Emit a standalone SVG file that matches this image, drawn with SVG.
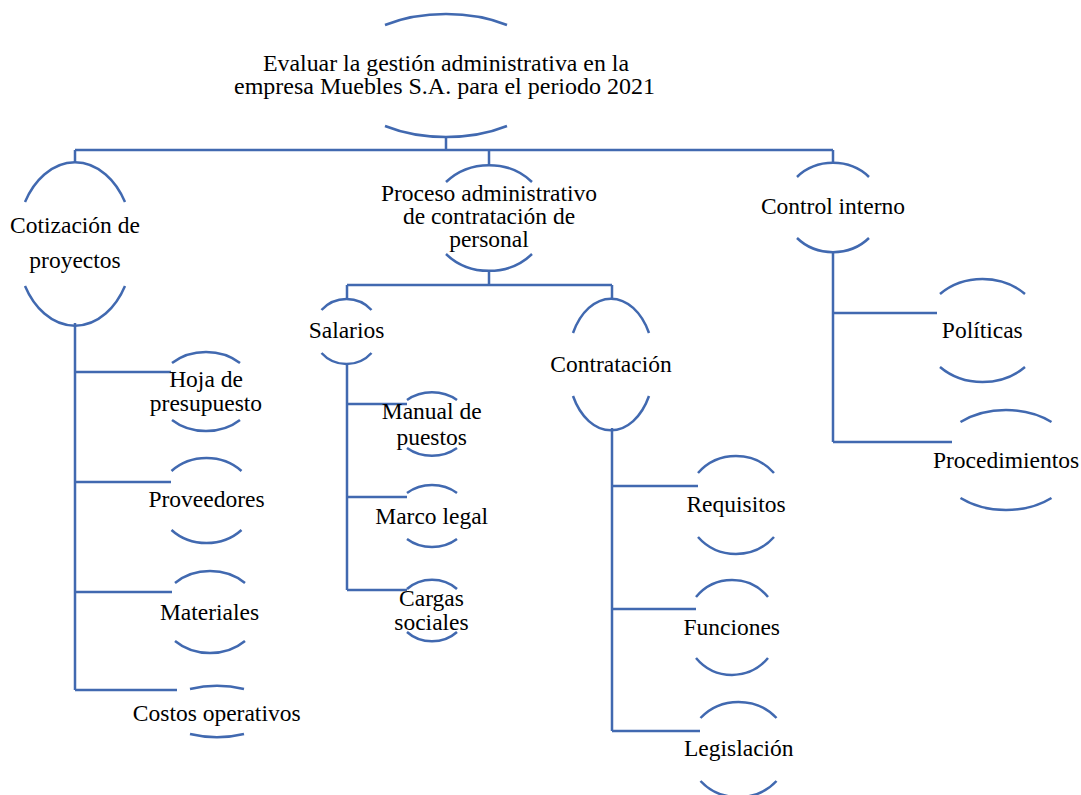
<svg xmlns="http://www.w3.org/2000/svg" width="1081" height="795" viewBox="0 0 1081 795">
<style>
.ln{fill:none;stroke:#4169b0;stroke-width:2.5}
.arc{fill:none;stroke:#4169b0;stroke-width:2.5}
text{font-family:"Liberation Serif","Times New Roman",serif;font-size:23.5px;fill:#000;text-anchor:middle}
</style>
<rect width="1081" height="795" fill="#fff"/>
<g id="connectors">
<path class="ln" d="M446 137V150M75 150H833M75 150V162M489 150V165M833 150V163"/>
<path class="ln" d="M75 323V690M75 372H171M75 482H171M75 592H172M75 690H177"/>
<path class="ln" d="M489 272V285M347 285H612M347 285V299M612 285V299"/>
<path class="ln" d="M347 364V590M347 404H407M347 497H407M347 590H407"/>
<path class="ln" d="M612 428V731M612 486H698M612 609H696M612 731H700"/>
<path class="ln" d="M833 251V442M833 313H937M833 442H952"/>
</g>
<g id="n-root">
<path class="arc" d="M385 25A107 61.5 0 0 1 507 25M385 126A107 61.5 0 0 0 507 126"/>
<text x="446" y="71" textLength="366" lengthAdjust="spacingAndGlyphs">Evaluar la gestión administrativa en la</text>
<text x="444.5" y="94.3" textLength="421" lengthAdjust="spacingAndGlyphs">empresa Muebles S.A. para el periodo 2021</text>
</g>
<g id="n-cotizacion">
<path class="arc" d="M25 202A58 80.5 0 0 1 125 202M25 286A58 80.5 0 0 0 125 286"/>
<text x="75" y="233">Cotización de</text>
<text x="75" y="268">proyectos</text>
</g>
<g id="n-proceso">
<path class="arc" d="M446 182A59 53.5 0 0 1 532 182M446 254A59 53.5 0 0 0 532 254"/>
<text x="489" y="201">Proceso administrativo</text>
<text x="489" y="224">de contratación de</text>
<text x="489" y="247">personal</text>
</g>
<g id="n-control">
<path class="arc" d="M797 177A49 44 0 0 1 869 177M797 238A49 44 0 0 0 869 238"/>
<text x="833" y="214">Control interno</text>
</g>
<g id="n-hoja">
<path class="arc" d="M172 363A49 39.5 0 0 1 240 363M172 420A49 39.5 0 0 0 240 420"/>
<text x="206" y="387">Hoja de</text>
<text x="206" y="411">presupuesto</text>
</g>
<g id="n-proveedores">
<path class="arc" d="M171.5 471A48.6 42.5 0 0 1 241.5 471M171.5 530A48.6 42.5 0 0 0 241.5 530"/>
<text x="206.5" y="507">Proveedores</text>
</g>
<g id="n-materiales">
<path class="arc" d="M175 583A49.5 41 0 0 1 245 583M175 641A49.5 41 0 0 0 245 641"/>
<text x="209.5" y="620">Materiales</text>
</g>
<g id="n-costos">
<path class="arc" d="M190 689A58 26.5 0 0 1 244 689M190 734A58 26.5 0 0 0 244 734"/>
<text x="216.7" y="721">Costos operativos</text>
</g>
<g id="n-salarios">
<path class="arc" d="M321.5 310A33.3 32.5 0 0 1 371.5 310M321.5 353A33.3 32.5 0 0 0 371.5 353"/>
<text x="346.5" y="338">Salarios</text>
</g>
<g id="n-manual">
<path class="arc" d="M407 400A38.5 32.5 0 0 1 457 400M407 448A38.5 32.5 0 0 0 457 448"/>
<text x="431.7" y="419">Manual de</text>
<text x="431.7" y="445">puestos</text>
</g>
<g id="n-marco">
<path class="arc" d="M407 493A38 32.5 0 0 1 457 493M407 539A38 32.5 0 0 0 457 539"/>
<text x="431.7" y="524">Marco legal</text>
</g>
<g id="n-cargas">
<path class="arc" d="M407 589A35 31 0 0 1 457 589M407 632A35 31 0 0 0 457 632"/>
<text x="431.5" y="606">Cargas</text>
<text x="431.5" y="630">sociales</text>
</g>
<g id="n-contratacion">
<path class="arc" d="M573 333A43 64.5 0 0 1 649 333M573 396A43 64.5 0 0 0 649 396"/>
<text x="611" y="372">Contratación</text>
</g>
<g id="n-requisitos">
<path class="arc" d="M698 473A50 48.5 0 0 1 774 473M698 537A50 48.5 0 0 0 774 537"/>
<text x="736" y="512">Requisitos</text>
</g>
<g id="n-funciones">
<path class="arc" d="M696 597A47 47.5 0 0 1 768 597M696 658A47 47.5 0 0 0 768 658"/>
<text x="731.7" y="635">Funciones</text>
</g>
<g id="n-legislacion">
<path class="arc" d="M700.5 718A50 46 0 0 1 776.5 718M700.5 781A50 46 0 0 0 776.5 781"/>
<text x="738.8" y="756">Legislación</text>
</g>
<g id="n-politicas">
<path class="arc" d="M940 294A60.5 52 0 0 1 1025 294M940 367A60.5 52 0 0 0 1025 367"/>
<text x="982.3" y="338">Políticas</text>
</g>
<g id="n-procedimientos">
<path class="arc" d="M960.5 422A70 50 0 0 1 1051.5 422M960.5 498A70 50 0 0 0 1051.5 498"/>
<text x="1006" y="468">Procedimientos</text>
</g>
</svg>
